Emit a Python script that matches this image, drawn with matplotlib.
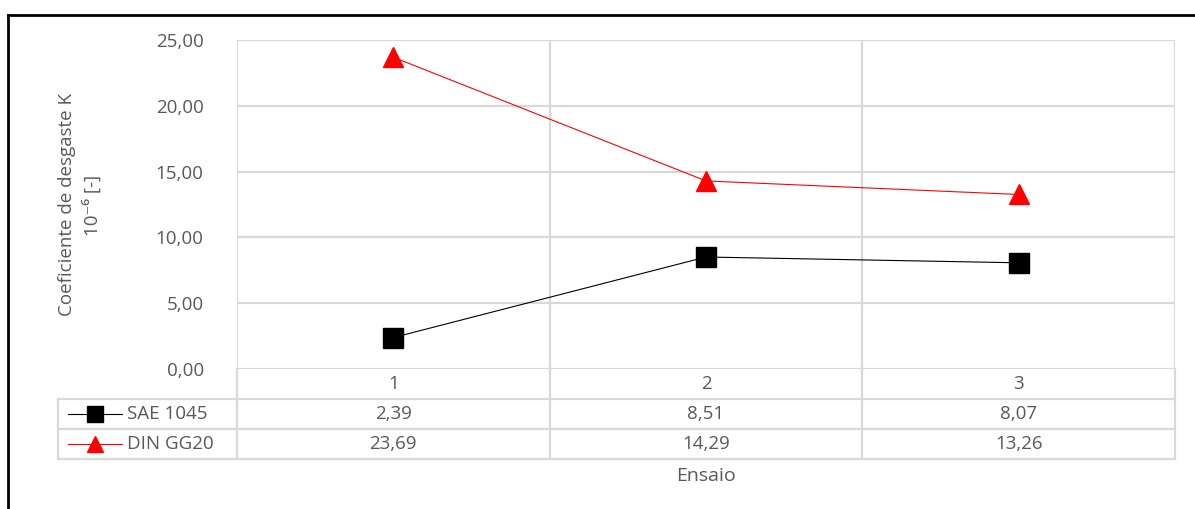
import matplotlib.pyplot as plt
from matplotlib.lines import Line2D

# data
ensaios = ["1", "2", "3"]
sae_1045 = [2.39, 8.51, 8.07]
din_gg20 = [23.69, 14.29, 13.26]
series_names = ["SAE 1045", "DIN GG20"]
y_ticks = [0, 5, 10, 15, 20, 25]

W, H = 1195, 509
GRID = "#d9d9d9"
TXT = "#595959"
FS = 13.5
plt.rcParams["font.family"] = ["Open Sans", "DejaVu Sans"]


def fx(px):
    return px / W


def fy(py):
    return 1 - py / H


fig = plt.figure(figsize=(W / 100, H / 100), dpi=100)

# chart area
x0, x1, ytop, ybot = 237, 1175, 40, 369
ax = fig.add_axes([fx(x0), fy(ybot), fx(x1 - x0), (ybot - ytop) / H])
xs = range(1, len(ensaios) + 1)
ax.plot(xs, sae_1045, color="black", lw=0.8, marker="s", ms=14, zorder=3)
ax.plot(xs, din_gg20, color="red", lw=0.8, marker="^", ms=14, zorder=3)
ax.set_xlim(0.5, len(ensaios) + 0.5)
ax.set_ylim(0, 25)
ax.set_yticks(y_ticks)
ax.set_yticklabels([f"{v:.2f}".replace(".", ",") for v in y_ticks])
ax.set_xticks([])
ax.tick_params(axis="y", length=0, pad=24, labelsize=FS, labelcolor=TXT)
for s in ax.spines.values():
    s.set_visible(False)
for v in y_ticks:
    ax.axhline(v, color=GRID, lw=1.6, zorder=1)
for b in [0.5, 1.5, 2.5, 3.5]:
    ax.axvline(b, color=GRID, lw=1.6, zorder=1)

# data table below the chart
tleft = 58
tab = fig.add_axes([fx(tleft), fy(459), fx(x1 - tleft), 90 / H])
px_per_unit = (x1 - x0) / 3
tab.set_xlim(0.5 - (x0 - tleft) / px_per_unit, 3.5)
tab.set_ylim(3, 0)
tab.axis("off")
xl = tab.get_xlim()[0]
for yy in [1, 2, 3]:
    tab.plot([xl, 3.5], [yy, yy], color=GRID, lw=1.6, clip_on=False)
tab.plot([xl, xl], [1, 3], color=GRID, lw=1.6, clip_on=False)
for b in [0.5, 1.5, 2.5, 3.5]:
    tab.plot([b, b], [0, 3], color=GRID, lw=1.6, clip_on=False)
for i, lab in enumerate(ensaios):
    tab.text(i + 1, 0.5, lab, ha="center", va="center", fontsize=FS, color=TXT)
rows = [(series_names[0], sae_1045, "black", "s"), (series_names[1], din_gg20, "red", "^")]
for r, (name, vals, col, mk) in enumerate(rows):
    yy = r + 1.5
    for i, v in enumerate(vals):
        tab.text(i + 1, yy, f"{v:.2f}".replace(".", ","), ha="center", va="center",
                 fontsize=FS, color=TXT)
    kx0 = xl + 10 / px_per_unit
    kx1 = xl + 64 / px_per_unit
    tab.plot([kx0, kx1], [yy, yy], color=col, lw=0.8, clip_on=False)
    tab.plot([(kx0 + kx1) / 2], [yy], color=col, marker=mk, ms=11, clip_on=False)
    tab.text(xl + 69 / px_per_unit, yy, name, ha="left", va="center", fontsize=FS, color=TXT)

fig.text(fx(706), fy(476), "Ensaio", ha="center", va="center", fontsize=14, color=TXT)
fig.text(fx(80), fy(205), "Coeficiente de desgaste K\n10\u207b\u2076 [-]", rotation=90,
         ha="center", va="center", fontsize=FS, color=TXT, linespacing=1.45)

# outer frame
fig.add_artist(Line2D([fx(8), fx(8)], [fy(15), 0], color="black", lw=2))
fig.add_artist(Line2D([fx(8), 1], [fy(15), fy(15)], color="black", lw=2))

fig.savefig("out.png", dpi=100)
